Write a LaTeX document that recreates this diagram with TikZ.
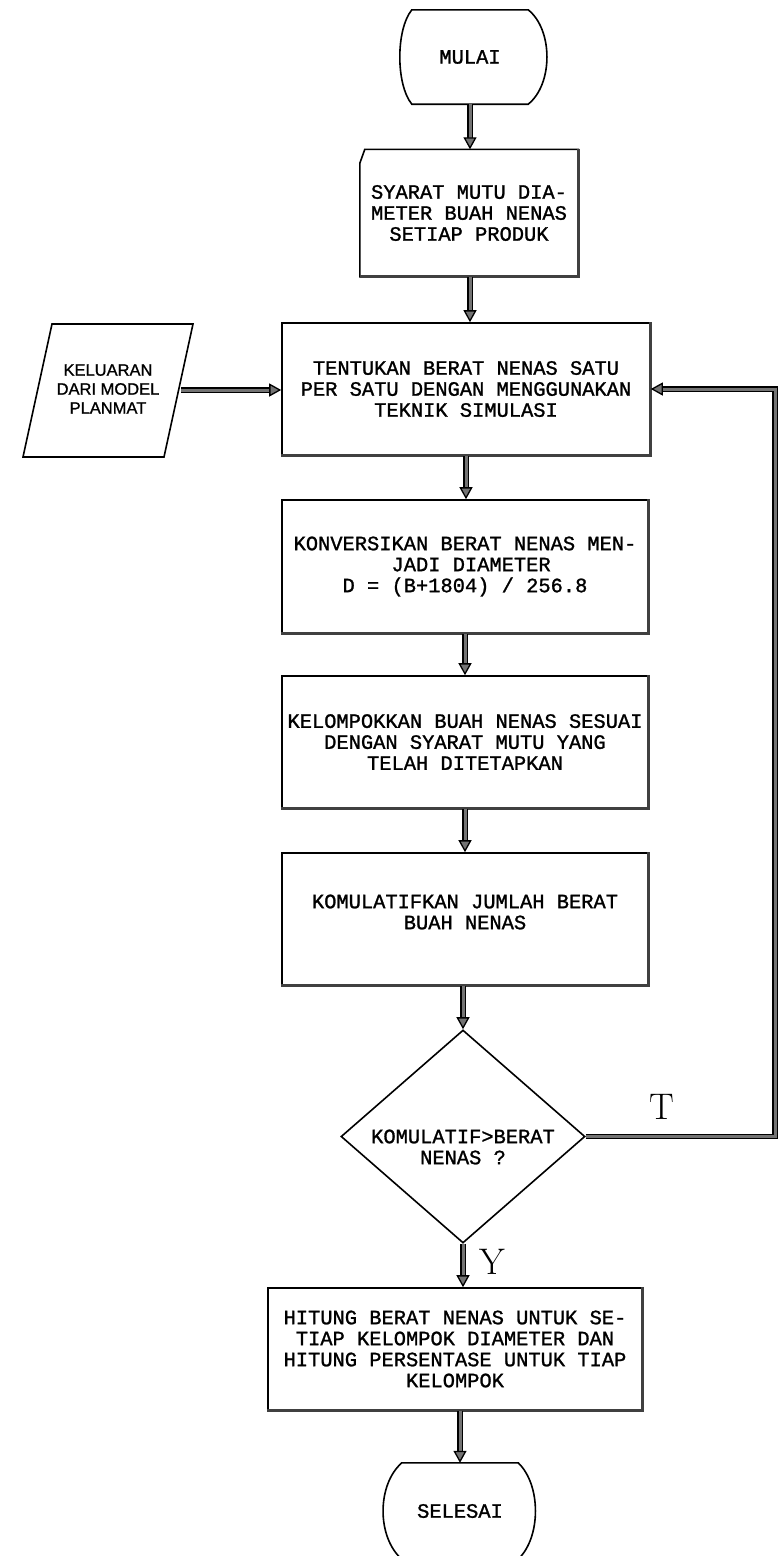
\documentclass[tikz,border=0pt]{standalone}
\usepackage{fontspec}
\usetikzlibrary{arrows.meta,shapes.geometric,calc}
\newfontfamily\dotfont{Liberation Mono}[FakeBold=1.2]
\newfontfamily\lblfont{Liberation Sans}[FakeBold=1.0]
\begin{document}
\begin{tikzpicture}[x=1pt,y=-1pt,
  outline/.style={draw=black, line width=1.6pt, line join=miter},
  dottext/.style={font=\dotfont\fontsize{20.4}{21}\selectfont, align=center, inner sep=0pt},
  procbox/.style={outline, rectangle, dottext},
  heavyedge/.style={draw=black!75, line width=2.8pt},
  plain/.style={draw=none, dottext},
  flow/.style={draw=black, line width=1.3pt, double=black!55, double distance=3pt,
    -{Triangle[length=12pt, width=13pt, fill=black!55]}},
  answer/.style={font=\fontsize{37}{37}\selectfont, inner sep=0pt},
  iotext/.style={font=\lblfont\fontsize{16.5}{19}\selectfont, align=center, inner sep=0pt}]

\useasboundingbox (0,0) rectangle (779,1556);
\fill[white] (0,0) rectangle (779,1556);
\clip (0,0) rectangle (779,1556);

% start terminal
\node[plain, minimum width=116pt, minimum height=94pt] (mulai) at (470,57) {MULAI};
\draw[outline] (mulai.north west) -- (mulai.north east)
  .. controls +(25,20) and +(25,-20) .. (mulai.south east)
  -- (mulai.south west)
  .. controls +(-16,-20) and +(-16,20) .. (mulai.north west) -- cycle;

% quality requirement (card)
\node[plain, minimum width=218pt, minimum height=127pt] (syarat) at (469,213)
  {SYARAT MUTU DIA-\\METER BUAH NENAS\\SETIAP PRODUK};
\draw[outline] ([xshift=5pt]syarat.north west) -- (syarat.north east)
  -- (syarat.south east) -- (syarat.south west)
  -- ([yshift=-14pt]syarat.north west) -- cycle;
\draw[heavyedge] (syarat.north east) -- (syarat.south east) -- (syarat.south west);

% input from PLANMAT
\draw[outline] (52,324) -- (193,324) -- (164,457) -- (23,457) -- cycle;
\node[iotext] (keluaran) at (108,389) {KELUARAN\\DARI MODEL\\PLANMAT};
\coordinate (kelout) at (181,390);

% process boxes
\node[procbox, minimum width=368pt, minimum height=132pt] (tent) at (466,389)
  {TENTUKAN BERAT NENAS SATU\\PER SATU DENGAN MENGGUNAKAN\\TEKNIK SIMULASI};
\node[procbox, align=left, minimum width=366pt, minimum height=133pt] (konv) at (465,566.5)
  {KONVERSIKAN BERAT NENAS MEN-\\\phantom{XXXXXXXX}JADI DIAMETER\\\phantom{XXXX}D = (B+1804) / 256.8};
\node[procbox, minimum width=366pt, minimum height=132pt] (kelp) at (465,742)
  {KELOMPOKKAN BUAH NENAS SESUAI\\DENGAN SYARAT MUTU YANG\\TELAH DITETAPKAN};
\node[procbox, minimum width=366pt, minimum height=132pt,
  label={[dottext, yshift=7pt]center:{KOMULATIFKAN JUMLAH BERAT\\BUAH NENAS}}] (kom) at (465,919) {};
\foreach \b in {tent,konv,kelp,kom}
  \draw[heavyedge] (\b.north east) -- (\b.south east) -- (\b.south west);

% decision
\node[diamond, outline, inner sep=0pt, minimum width=244pt, minimum height=213pt] (dia) at (463,1136.5) {};
\node[plain] (diatext) at (463,1147) {KOMULATIF>BERAT\\NENAS ?};

% result box
\node[procbox, minimum width=374pt, minimum height=122pt] (hit) at (455,1349)
  {HITUNG BERAT NENAS UNTUK SE-\\TIAP KELOMPOK DIAMETER DAN\\HITUNG PERSENTASE UNTUK TIAP\\KELOMPOK};
\draw[heavyedge] (hit.north east) -- (hit.south east) -- (hit.south west);

% end terminal
\node[plain, minimum width=116pt, minimum height=96pt] (selesai) at (460,1511) {SELESAI};
\draw[outline] (selesai.north west) -- (selesai.north east)
  .. controls +(23,22) and +(23,-22) .. (selesai.south east)
  -- (selesai.south west)
  .. controls +(-25,-22) and +(-25,22) .. (selesai.north west) -- cycle;

% connectors
\draw[flow] (mulai.south) -- (mulai.south |- syarat.north);
\draw[flow] (mulai.south |- syarat.south) -- (mulai.south |- tent.north);
\draw[flow] (kelout) -- (kelout -| tent.west);
\draw[flow] (tent.south) -- (tent.south |- konv.north);
\draw[flow] (konv.south) -- (konv.south |- kelp.north);
\draw[flow] (kelp.south) -- (kelp.south |- kom.north);
\draw[flow] (dia.north |- kom.south) -- (dia.north);
\coordinate (loop) at (775,1136.5);
\draw[flow, line join=miter] (dia.east) -- (loop) |- (tent.east);
\draw[flow] (dia.south) -- (dia.south |- hit.north);
\draw[flow] (selesai.north |- hit.south) -- (selesai.north);

% branch labels
\node[answer] (tlabel) at (662,1107) {T};
\node[answer] (ylabel) at (492,1262) {Y};
\end{tikzpicture}
\end{document}
